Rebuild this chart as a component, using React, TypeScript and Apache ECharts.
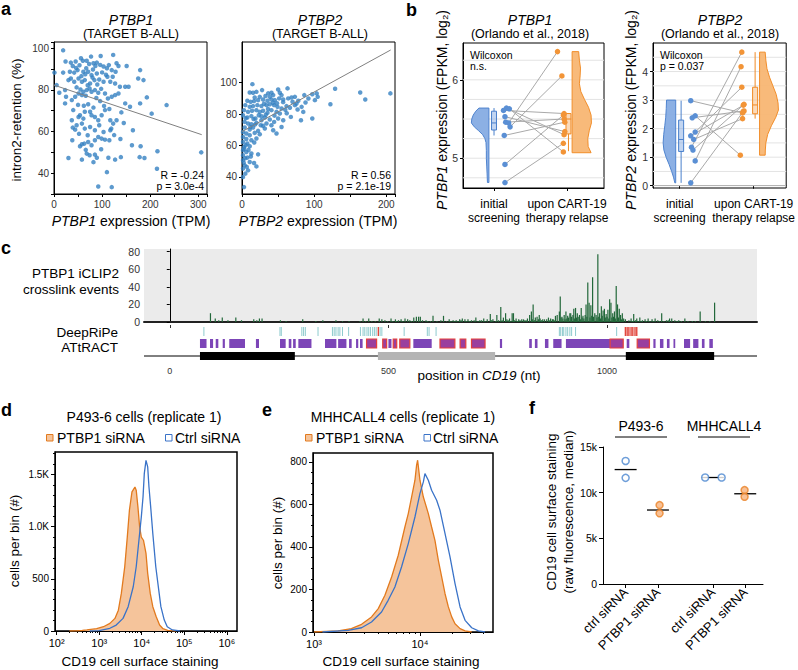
import React, { useEffect, useRef } from 'react';
import * as echarts from 'echarts';

const FONT = '"Liberation Sans", Arial, Helvetica, "DejaVu Sans", sans-serif';

// ---------------- Panel a ----------------
const aLeftPoints = [
  [19,99],[24,93.6],[1,88.3],[19,88.3],[35,93.1],[39,91.5],[45,93.6],[56,95.2],[60,94],[68,94],[77,96],[97,96.3],[123,96.8],
  [73,92.4],[82,92.8],[89,93.1],[96,92],[103,91.2],[110,90.4],[120,89.5],[130,92.8],[134,91.5],[151,91.5],[122,86.3],[128,88.7],
  [179,89.5],[186,84.7],[175,85.5],[33,88.7],[42,88.3],[49,89.5],[61,88.7],[67,90.4],[71,88.7],[78,87.1],[89,87.9],[30,84.7],
  [35,85.5],[42,83.9],[51,85.5],[58,83.9],[64,84.7],[75,83.1],[84,84.7],[94,85],[103,83.9],[111,86.3],[117,83.9],[127,83.1],
  [148,81.5],[155,81.5],[5.5,82.3],[11,78.6],[23,79.9],[25,76.7],[23,73.5],[37,75.1],[44,76.7],[51,78.3],[58,77.5],[61,79.1],
  [68,79.9],[74,80.7],[78,79.1],[85,79.9],[92,78.6],[106,78.3],[112,75.9],[120,76.7],[127,77.5],[134,78.3],[137,81.5],[148,73.5],
  [158,71.9],[179,73.5],[193,76.4],[234,72.7],[203,68.6],[40,70.3],[51,67],[54,67.8],[61,66.2],[64,69.5],[75,69.5],[78,67.8],
  [85,67],[92,65.4],[99,67.8],[106,70.3],[117,65.4],[123,63.8],[130,65.4],[37,65.4],[39,61.9],[44,60.9],[47,63],[58,63.8],
  [64,61.4],[75,62.2],[85,60.6],[94,63],[103,59.8],[117,60.6],[119,61.4],[164,60.6],[38,55.8],[54,52.9],[58,53.9],[63,54.2],
  [71,55],[78,53.4],[85,55.8],[92,57.4],[99,56.6],[106,56.1],[115,55.8],[162,53.4],[180,52.9],[215,50.5],[306,50],[30,47.3],
  [58,46.5],[68,49.4],[74,48.6],[85,48.9],[89,47.4],[82,45.3],[113,47.4],[127,46.5],[139,47.7],[178,47.7],[188,47.3],[110,40.5],
  [214,42.1],[92,33.6],[120,33.3],[46,90.5],[53,91.8],[57,86.6],[65,87.5],[81,89.8],[86,91.5],[100,88.4],[108,87.3],[114,91.9],
  [70,82.2],[80,85.9],[90,82.6],[98,80.5],[47,81.2],[55,80.2],[66,77.2],[88,76.1],[96,74.6],[104,72.3],[71,73.1],[62,72.4],
  [50,72.8],[82,71.5],[115,70.8],[140,69.2],[145,64.1],[125,58.3],[138,56.4],[70,58.2],[52,58.9],[98,51.5],[66,51.2]
];
const aRightPoints = [
  [14.4,99.1],[27.8,95.3],[10.7,93.8],[15.3,93.6],[20,94.2],[36.2,93.2],[40.8,93.6],[50.1,95.7],[63.1,96.4],[52.4,93.6],[54.8,92.1],
  [43.2,92.1],[38.5,91],[32.5,91.5],[24.6,91],[17.6,90.6],[7.4,88.5],[12,87.8],[16.7,88.3],[22.3,88.9],[29.2,89.3],[35.3,88.5],
  [40.8,89.3],[45.5,88.9],[51.5,90],[57.1,89.3],[64,90],[68.7,90.6],[73.3,91],[78,88.5],[86.3,92.1],[97.4,92.7],[103.5,93.2],
  [104.9,91],[101,88.9],[129,96.2],[163.8,93.8],[170.8,89.3],[205.6,93.2],[122.5,86.3],[4.6,85.7],[10.7,84.6],[15.3,85.1],
  [21.3,85.7],[26.9,85.1],[33.9,85.7],[38.5,86.3],[44.5,85.7],[49.2,84.6],[54.8,83.6],[61.7,85.1],[66.4,84],[73.3,85.7],[82.6,84.6],
  [77,82.9],[84.9,81.4],[2.8,82.5],[8.4,81.4],[13.9,82.1],[20,82.5],[24.6,81.4],[29.2,82.1],[35.3,80.8],[40.8,82.5],[47.8,81.4],
  [52.4,80.4],[67.7,78.2],[81.7,76.1],[97.4,77.2],[1.4,79.3],[7.4,77.8],[13,78.7],[18.6,77.2],[23.2,79.3],[26.9,76.1],[31.6,77.8],
  [38.5,76.5],[44.5,75],[50.1,77.2],[57.1,76.1],[3.7,75],[8.4,74],[13,73.5],[20,74.4],[26,72.9],[33.9,74],[40.8,72.9],[54.8,71.8],
  [43.2,69.7],[47.8,67.6],[3.7,71.4],[10.7,70.1],[15.3,71.4],[22.3,69.3],[31.6,70.8],[1.4,68.6],[6,67.6],[10.7,66.5],[17.6,68],
  [24.6,67.1],[1.4,65.4],[6,64.1],[13,63.3],[20,64.4],[1.4,62.2],[7.4,61.2],[2.8,59],[10.7,59.5],[1.4,56.9],[6,55.8],[13,54.8],
  [22.3,54.3],[1.4,53.7],[7.4,52.2],[1.4,50.6],[10.7,49.4],[3.7,47.3],[16.7,48.8],[20,46.6],[1.4,45.2],[8.4,44.1],[4.6,42],
  [1.4,39.8],[2.8,33.4],[30.5,86.6],[36,83.2],[43,87.2],[48.5,86.9],[57,87.6],[60,82.7],[70,87.9],[75.5,86.7],[88,87.4],[92,89.9],
  [27,78.6],[33,79.6],[45,79],[62,80.5],[5,77.4],[16,76.8],[11.5,71.8],[18,73.3],[29,72.6],[5,60.1],[3,57.8],[9,57.1],[4.2,51.8],
  [2.4,48.9],[6.6,46.3],[12.2,52.9],[17,61.9]
];
const aLeftFit = [[0, 82.3], [307, 58.5]];
const aRightFit = [[0, 68.8], [206, 120.9]];
const aLeftStats = ['R = -0.24', 'p = 3.0e-4'];
const aRightStats = ['R = 0.56', 'p = 2.1e-19'];

// ---------------- Panel b ----------------
const bCategories = ['initial\nscreening', 'upon CART-19\ntherapy relapse'];
const b1InitialValues = [5.64, 5.63, 5.61, 5.53, 5.46, 5.45, 5.40, 5.29, 4.92, 4.69];
const b1InitialJitter = [1.17, 1.21, 1.13, 1.15, 1.16, 1.20, 1.22, 1.14, 1.15, 1.15];
const b1RelapseValues = [5.30, 5.08, 5.57, 5.34, 5.50, 6.36, 6.05, 5.46, 5.55, 5.19];
const b1RelapseJitter = [1.96, 1.95, 1.96, 1.97, 1.96, 1.87, 1.93, 1.97, 1.95, 1.95];
const b1ViolinInitial = [[5.64,0.137],[5.6,0.18],[5.55,0.215],[5.5,0.235],[5.45,0.24],[5.4,0.2],[5.35,0.14],[5.3,0.085],[5.25,0.055],[5.2,0.04],[5.1,0.035],[5.0,0.035],[4.9,0.03],[4.8,0.025],[4.69,0.02]];
const b1ViolinRelapse = [[6.36,0.09],[6.25,0.1],[6.15,0.115],[6.05,0.11],[5.95,0.1],[5.85,0.12],[5.75,0.17],[5.65,0.225],[5.55,0.26],[5.45,0.265],[5.35,0.235],[5.25,0.215],[5.15,0.22],[5.07,0.26]];
const b1BoxInitial = [5.29, 5.36, 5.45, 5.60, 5.64];
const b1BoxRelapse = [5.09, 5.31, 5.50, 5.57, 5.57];
const b1GridValues = [4.75, 5.0, 5.25, 5.5, 5.75, 6.0, 6.25];

const b2InitialValues = [2.98, 2.45, 2.38, 1.88, 1.75, 1.62, 1.35, 1.25, 0.87, 0.10];
const b2InitialJitter = [1.15, 1.21, 1.17, 1.21, 1.15, 1.19, 1.16, 1.18, 1.21, 1.15];
const b2RelapseValues = [2.55, 1.07, 2.62, 3.45, 2.82, 2.35, 4.68, 2.85, 4.17, 2.60];
const b2RelapseJitter = [1.85, 1.82, 1.87, 1.84, 1.86, 1.85, 1.84, 1.87, 1.83, 1.86];
const b2ViolinInitial = [[3.0,0.124],[2.7,0.128],[2.4,0.135],[2.1,0.148],[1.8,0.162],[1.5,0.17],[1.25,0.16],[1.0,0.13],[0.75,0.09],[0.5,0.055],[0.3,0.03],[0.1,0.012]];
const b2ViolinRelapse = [[4.68,0.076],[4.4,0.085],[4.1,0.1],[3.8,0.135],[3.5,0.18],[3.2,0.225],[2.9,0.25],[2.65,0.255],[2.4,0.22],[2.1,0.16],[1.8,0.11],[1.5,0.085],[1.25,0.078],[1.07,0.076]];
const b2BoxInitial = [0.10, 1.20, 1.62, 2.30, 2.98];
const b2BoxRelapse = [2.35, 2.52, 2.83, 3.45, 4.68];
const b2GridValues = [0, 0.5, 1, 1.5, 2, 2.5, 3, 3.5, 4, 4.5];

// ---------------- Panel c ----------------
const clipEvents = [
  [93,10],[104,4],[112,2],[120,5],[133,2],[151,5],[164,2],[192,3],[199,2],[205,4],[211,4],[253,2],[266,1],[304,3],[334,1],[350,2],
  [380,2],[395,1],[410,1],[435,1],[442,4],[448,1],[455,4],[462,1],[470,1],[479,4],[485,3],[492,2],[498,1],[506,4],[510,1],[516,3],
  [519,1],[523,2],[529,3],[533,1],[538,4],[544,3],[549,2],[553,1],[558,5],[564,6],[569,6],[573,6],[578,2],[586,2],[590,1],[596,1],
  [602,7],[611,1],[620,2],[626,7],[633,1],[639,3],[643,1],[648,2],[652,1],[655,2],[659,1],[663,3],[666,2],[669,4],[675,3],[678,1],
  [682,3],[686,1],[690,2],[696,2],[700,5],[705,1],[709,2],[713,2],[718,4],[721,1],[726,3],[733,9],[736,2],[739,3],[745,1],[748,8],
  [752,2],[757,17],[760,2],[763,5],[768,10],[771,3],[774,2],[777,4],[780,1],[783,10],[786,10],[788,2],[792,4],[795,1],[798,3],
  [801,2],[805,3],[809,3],[812,2],[815,2],[818,4],[823,8],[827,12],[829,3],[831,20],[834,2],[836,5],[840,6],[843,3],[845,8],
  [847,4],[850,2],[853,3],[857,3],[862,3],[866,5],[869,2],[871,4],[875,3],[877,3],[879,2],[882,7],[886,8],[891,12],[893,29],
  [895,5],[897,6],[899,4],[902,8],[904,3],[906,12],[908,4],[910,7],[912,5],[915,10],[917,10],[919,6],[922,8],[924,15],[926,4],
  [928,16],[930,5],[932,10],[934,6],[937,8],[939,3],[941,16],[943,5],[945,7],[947,4],[950,8],[952,20],[954,6],[956,45],[959,22],
  [961,5],[963,19],[965,7],[967,51],[969,6],[972,10],[975,8],[977,5],[979,77],[981,6],[983,10],[985,4],[987,18],[989,7],[991,13],
  [994,15],[996,5],[998,9],[1000,6],[1002,14],[1004,4],[1006,26],[1009,22],[1011,5],[1013,10],[1015,6],[1017,12],[1019,4],
  [1021,41],[1024,20],[1026,5],[1028,15],[1031,8],[1033,3],[1035,10],[1038,4],[1042,3],[1050,2],[1055,4],[1058,1],[1061,9],
  [1065,2],[1068,4],[1071,1],[1075,5],[1078,1],[1081,2],[1087,3],[1090,1],[1094,4],[1098,1],[1103,3],[1107,1],[1110,4],[1116,2],
  [1120,1],[1125,10],[1130,1],[1136,2],[1140,2],[1143,4],[1148,4],[1155,2],[1160,1],[1164,2],[1170,1],[1178,4],[1185,1],
  [1195,1],[1202,1],[1213,12],[1225,1],[1235,1],[1246,22]
];
const deepripeSites = [78,252,255,302,306,310,339,372,376,380,385,389,395,409,436,442,446,451,455,459,464,468,472,481,485,536,589,593,609,891,894,898,901,906,910,915,919,928,1022];
const deepripeStrongSites = [477,1042,1046,1050,1055,1059,1064,1068];
const attractMotifs = [
  [69,84],[92,99],[105,111],[121,126],[136,172],[197,204],[252,265],[272,278],[282,288],[294,324],[355,381],[385,404],[410,416],
  [426,431],[435,441],[500,507],[557,599],[755,760],[822,828],[835,841],[858,866],[877,896],[906,1007],[1045,1051],[1106,1111],
  [1121,1129],[1137,1143],[1152,1156],[1176,1190],[1197,1209],[1217,1223],[1234,1242]
];
const attractOverlapMotifs = [[450,473],[487,496],[511,519],[526,549],[618,652],[664,677],[690,721],[1007,1037],[1069,1097]];
const geneLine = [-59, 1343];
const geneBlocks = [[69, 286, 0], [476, 744, 1], [1043, 1245, 0]];
const positionTicks = [0, 500, 1000];

// ---------------- Panel d ----------------
const dPtbp1 = [[200,0],[300,2],[400,5],[510,10],[870,22],[1260,41],[1780,73],[2340,121],[2820,200],[3310,360],[3980,615],[4570,900],
  [5130,1158],[5890,1333],[6920,1380],[7410,1350],[8130,1190],[8910,1000],[9770,900],[10960,870],[12590,743],[13800,552],
  [15850,360],[18200,233],[21880,137],[26300,57],[31600,22],[40700,6],[63100,0]];
const dCtrl = [[600,0],[1000,3],[1780,26],[2510,57],[3630,121],[4790,233],[6310,424],[7410,616],[8910,935],[9770,1094],
  [10720,1286],[11480,1509],[12590,1636],[13800,1573],[14790,1381],[16220,1190],[18200,935],[21380,616],[25120,392],
  [28180,233],[33880,105],[39810,41],[52480,10],[79430,0]];
const dCountTicks = [0, 500, 1000, 1500];

// ---------------- Panel e ----------------
const ePtbp1 = [[1000,0],[1690,5],[2250,16],[2810,36],[3490,71],[4040,110],[4670,173],[5400,259],[6240,361],[7210,494],[7760,557],
  [8340,635],[8970,714],[9300,785],[9510,808],[10000,714],[10770,635],[12000,557],[12890,494],[13860,431],[14920,337],
  [16040,259],[17260,180],[18550,118],[19950,71],[21450,39],[23930,16],[26690,5],[30830,0]];
const eCtrl = [[1200,0],[2100,8],[2810,20],[3490,47],[4340,94],[5010,149],[5800,212],[6700,306],[7760,416],[8970,541],[10000,651],
  [10770,706],[11150,745],[12000,714],[12890,667],[14380,620],[15460,573],[17260,463],[19230,353],[21450,228],[23930,118],
  [26690,55],[30830,20],[35650,5],[41200,0]];
const eCountTicks = [0, 200, 400, 600, 800];

// ---------------- Panel f ----------------
const fLabels = ['ctrl siRNA', 'PTBP1 siRNA', 'ctrl siRNA', 'PTBP1 siRNA'];
const fPositions = [1, 2, 3.7, 4.7];
const fValues = [[13470, 11620], [8640, 7740], [11660, 11660], [10280, 9550]];
const fJitter = [[0, 0], [0.05, 0.05], [-0.24, 0.27], [-0.02, -0.02]];
const fMedians = [12530, 8100, 11660, 9880];
const fCellLines = ['P493-6', 'MHHCALL4'];

// ---------------- helpers ----------------
const BLUE = '#5a8fd4';
const BLUE_FILL = '#86ace3';
const ORANGE = '#f29437';
const ORANGE_FILL = '#f8b673';
const supers: Record<number, string> = { 2: '²', 3: '³', 4: '⁴', 5: '⁵', 6: '⁶' };

function txt(x: number, y: number, text: string, size: number, opts: any = {}) {
  const color = opts.color || '#000';
  return {
    type: 'text', x, y, rotation: opts.rot || 0, silent: true, z: 100,
    style: {
      text, fill: color, fontSize: size, fontFamily: FONT,
      fontWeight: opts.bold ? 'bold' : 'normal', fontStyle: opts.italic ? 'italic' : 'normal',
      align: opts.align || 'center', verticalAlign: 'middle',
      rich: { i: { fontStyle: 'italic', fontSize: size, fontFamily: FONT, fill: color } }
    }
  };
}

function gridLinesSeries(xi: number, yi: number, values: number[], xmin: number, xmax: number) {
  return {
    type: 'custom', xAxisIndex: xi, yAxisIndex: yi, silent: true, z: 1,
    data: values.map((v) => [xmin, v]),
    renderItem: (_p: any, api: any) => {
      const v = api.value(1);
      const a = api.coord([xmin, v]);
      const b = api.coord([xmax, v]);
      return { type: 'line', shape: { x1: a[0], y1: a[1], x2: b[0], y2: b[1] }, style: { stroke: '#e3e3e3', lineWidth: 1 } };
    }
  };
}

function violinSeries(xi: number, yi: number, base: number, dir: number, profile: number[][], fill: string, stroke: string) {
  return {
    type: 'custom', xAxisIndex: xi, yAxisIndex: yi, silent: true, z: 2,
    data: [[base, profile[0][0]]],
    renderItem: (_p: any, api: any) => {
      const pts: number[][] = [];
      pts.push(api.coord([base, profile[0][0]]));
      profile.forEach(([v, w]) => pts.push(api.coord([base + dir * w, v])));
      pts.push(api.coord([base, profile[profile.length - 1][0]]));
      return { type: 'polygon', shape: { points: pts }, style: { fill, stroke, lineWidth: 1, opacity: 0.95 } };
    }
  };
}

function boxSeries(xi: number, yi: number, x: number, stats: number[], hw: number, stroke: string, fill: string) {
  return {
    type: 'custom', xAxisIndex: xi, yAxisIndex: yi, silent: true, z: 3,
    data: [[x, ...stats]],
    renderItem: (_p: any, api: any) => {
      const cx = api.value(0);
      const lo = api.value(1), q1 = api.value(2), md = api.value(3), q3 = api.value(4), hi = api.value(5);
      const tl = api.coord([cx - hw, q3]);
      const br = api.coord([cx + hw, q1]);
      const lw = api.coord([cx, lo]);
      const lq = api.coord([cx, q1]);
      const uq = api.coord([cx, q3]);
      const uw = api.coord([cx, hi]);
      const ml = api.coord([cx - hw, md]);
      const mr = api.coord([cx + hw, md]);
      return {
        type: 'group',
        children: [
          { type: 'line', shape: { x1: lw[0], y1: lw[1], x2: lq[0], y2: lq[1] }, style: { stroke, lineWidth: 1 } },
          { type: 'line', shape: { x1: uq[0], y1: uq[1], x2: uw[0], y2: uw[1] }, style: { stroke, lineWidth: 1 } },
          { type: 'rect', shape: { x: tl[0], y: tl[1], width: br[0] - tl[0], height: br[1] - tl[1] }, style: { fill, stroke, lineWidth: 1 } },
          { type: 'line', shape: { x1: ml[0], y1: ml[1], x2: mr[0], y2: mr[1] }, style: { stroke, lineWidth: 1 } }
        ]
      };
    }
  };
}

function pairLines(xi: number, yi: number, iv: number[], ij: number[], rv: number[], rj: number[]) {
  return {
    type: 'lines', coordinateSystem: 'cartesian2d', xAxisIndex: xi, yAxisIndex: yi, silent: true, z: 4,
    lineStyle: { color: '#a9a9a9', width: 1, opacity: 1 },
    data: iv.map((v, i) => ({ coords: [[ij[i], v], [rj[i], rv[i]]] }))
  };
}

function dots(xi: number, yi: number, xs: number[], ys: number[], color: string) {
  return {
    type: 'scatter', xAxisIndex: xi, yAxisIndex: yi, silent: true, z: 5, symbolSize: 5.5,
    itemStyle: { color, opacity: 1 },
    data: ys.map((v, i) => [xs[i], v])
  };
}

const blackLine = { show: true, lineStyle: { color: '#000', width: 1 } };
const tick = (len = 3) => ({ show: true, length: len, lineStyle: { color: '#000', width: 1 } });
const lbl = (extra: any = {}) => ({ fontSize: 10, color: '#333', fontFamily: FONT, ...extra });

function buildOption() {
  const log = (arr: number[][]) => arr.map(([v, c]) => [Math.log10(v), c]);
  const minorLogs = (lo: number, hi: number, min: number, max: number) => {
    const out: number[] = [];
    for (let n = lo; n <= hi; n++) for (let k = 2; k <= 9; k++) {
      const l = Math.log10(k * Math.pow(10, n));
      if (l > min && l < max) out.push(l);
    }
    return out;
  };
  const D_MIN = 1.96, D_MAX = 6.24, E_MIN = 2.99, E_MAX = 4.69;
  const B1X = [0.575, 2.507], B2X = [0.64, 2.44];
  const C_X = [geneLine[0], geneLine[1]];

  const grid = [
    { left: 54, top: 42, width: 153, height: 152, show: true, borderColor: '#000', borderWidth: 1 },
    { left: 242, top: 42, width: 153, height: 152, show: true, borderColor: '#000', borderWidth: 1 },
    { left: 463, top: 43, width: 141, height: 145, show: true, borderColor: '#000', borderWidth: 1 },
    { left: 653, top: 43, width: 135, height: 145, show: true, borderColor: '#000', borderWidth: 1 },
    { left: 144, top: 249, width: 613, height: 73, show: true, backgroundColor: '#ebebeb', borderWidth: 0 },
    { left: 144, top: 325, width: 613, height: 38, show: false },
    { left: 55, top: 452, width: 182, height: 179, show: true, borderColor: '#000', borderWidth: 1.5 },
    { left: 313, top: 453, width: 180, height: 179, show: true, borderColor: '#000', borderWidth: 1.5 },
    { left: 603, top: 447, width: 160, height: 137, show: false }
  ];

  const xAxis: any[] = [
    { gridIndex: 0, type: 'value', min: 0, max: 318, interval: 50, axisLine: blackLine, axisTick: tick(), splitLine: { show: false },
      axisLabel: lbl({ fontSize: 10, margin: 5, formatter: (v: number) => (v % 100 === 0 ? String(v) : '') }) },
    { gridIndex: 1, type: 'value', min: 0, max: 212, interval: 50, axisLine: blackLine, axisTick: tick(), splitLine: { show: false },
      axisLabel: lbl({ fontSize: 10, margin: 5, formatter: (v: number) => (v % 100 === 0 ? String(v) : '') }) },
    { gridIndex: 2, type: 'value', min: B1X[0], max: B1X[1], axisLine: blackLine, splitLine: { show: false },
      axisTick: { ...tick(), customValues: [1, 2] },
      axisLabel: lbl({ fontSize: 12, color: '#000', lineHeight: 14, margin: 9, customValues: [1, 2], formatter: (v: number) => bCategories[Math.round(v) - 1] }) },
    { gridIndex: 3, type: 'value', min: B2X[0], max: B2X[1], axisLine: blackLine, splitLine: { show: false },
      axisTick: { ...tick(), customValues: [1, 2] },
      axisLabel: lbl({ fontSize: 12, color: '#000', lineHeight: 14, margin: 9, customValues: [1, 2], formatter: (v: number) => bCategories[Math.round(v) - 1] }) },
    { gridIndex: 4, type: 'value', min: C_X[0], max: C_X[1], axisLine: { show: true, lineStyle: { color: '#222', width: 2 } },
      axisTick: { show: false }, axisLabel: { show: false }, splitLine: { show: false } },
    { gridIndex: 5, type: 'value', min: C_X[0], max: C_X[1], axisLine: { show: false }, splitLine: { show: false },
      axisTick: { show: true, length: 3, customValues: positionTicks, lineStyle: { color: '#333' } },
      axisLabel: lbl({ fontSize: 9, margin: 3, customValues: positionTicks, formatter: (v: number) => String(v) }) },
    { gridIndex: 6, type: 'value', min: D_MIN, max: D_MAX, axisLine: blackLine, splitLine: { show: false },
      axisTick: { ...tick(4), customValues: [2, 3, 4, 5, 6] },
      axisLabel: lbl({ fontSize: 11, color: '#000', margin: 6, customValues: [2, 3, 4, 5, 6], formatter: (v: number) => '10' + supers[Math.round(v)] }) },
    { gridIndex: 6, type: 'value', min: D_MIN, max: D_MAX, position: 'bottom', axisLine: { show: false }, splitLine: { show: false },
      axisTick: { ...tick(2), customValues: minorLogs(2, 5, D_MIN, D_MAX) }, axisLabel: { show: false } },
    { gridIndex: 7, type: 'value', min: E_MIN, max: E_MAX, axisLine: blackLine, splitLine: { show: false },
      axisTick: { ...tick(4), customValues: [3, 4] },
      axisLabel: lbl({ fontSize: 11, color: '#000', margin: 6, customValues: [3, 4], formatter: (v: number) => '10' + supers[Math.round(v)] }) },
    { gridIndex: 7, type: 'value', min: E_MIN, max: E_MAX, position: 'bottom', axisLine: { show: false }, splitLine: { show: false },
      axisTick: { ...tick(2), customValues: minorLogs(3, 4, E_MIN, E_MAX) }, axisLabel: { show: false } },
    { gridIndex: 8, type: 'value', min: 0.3, max: 5.25, axisLine: blackLine, splitLine: { show: false },
      axisTick: { ...tick(4), customValues: fPositions },
      axisLabel: lbl({ fontSize: 13, color: '#000', rotate: 45, margin: 6, customValues: fPositions,
        formatter: (v: number) => fLabels[fPositions.findIndex((p) => Math.abs(p - v) < 1e-6)] || '' }) }
  ];

  const yAxis: any[] = [
    { gridIndex: 0, type: 'value', min: 30, max: 103, interval: 10, axisLine: blackLine, axisTick: tick(), splitLine: { show: false },
      axisLabel: lbl({ fontSize: 10, margin: 5, formatter: (v: number) => (v % 20 === 0 && v >= 40 ? String(v) : '') }) },
    { gridIndex: 1, type: 'value', min: 29, max: 126, axisLine: blackLine, splitLine: { show: false },
      axisTick: { ...tick(), customValues: [40, 60, 80, 100] },
      axisLabel: lbl({ fontSize: 10, margin: 5, customValues: [40, 60, 80, 100] }) },
    { gridIndex: 2, type: 'value', min: 4.62, max: 6.47, axisLine: blackLine, splitLine: { show: false },
      axisTick: { ...tick(), customValues: [5, 6] }, axisLabel: lbl({ fontSize: 10.5, margin: 5, customValues: [5, 6] }) },
    { gridIndex: 3, type: 'value', min: -0.08, max: 5.0, axisLine: blackLine, splitLine: { show: false },
      axisTick: { ...tick(), customValues: [0, 1, 2, 3, 4] }, axisLabel: lbl({ fontSize: 10.5, margin: 5, customValues: [0, 1, 2, 3, 4] }) },
    { gridIndex: 4, type: 'value', min: 0, max: 83, axisLine: blackLine, splitLine: { show: false },
      axisTick: { ...tick(), customValues: [0, 20, 40, 60, 80] },
      axisLabel: lbl({ fontSize: 10.5, margin: 4, customValues: [0, 20, 40, 60, 80] }) },
    { gridIndex: 5, type: 'value', min: 0, max: 38, inverse: true, show: false },
    { gridIndex: 6, type: 'value', min: 0, max: 1716, interval: 500, axisLine: blackLine, splitLine: { show: false },
      axisTick: { ...tick(4), customValues: dCountTicks },
      minorTick: { show: true, splitNumber: 5, length: 2, lineStyle: { color: '#000' } },
      axisLabel: lbl({ fontSize: 10, color: '#000', margin: 6, customValues: dCountTicks,
        formatter: (v: number) => (v >= 1000 ? (v / 1000).toFixed(1) + 'K' : String(v)) }) },
    { gridIndex: 7, type: 'value', min: 0, max: 842, interval: 200, axisLine: blackLine, splitLine: { show: false },
      axisTick: { ...tick(4), customValues: eCountTicks },
      minorTick: { show: true, splitNumber: 4, length: 2, lineStyle: { color: '#000' } },
      axisLabel: lbl({ fontSize: 10, color: '#000', margin: 6, customValues: eCountTicks }) },
    { gridIndex: 8, type: 'value', min: 0, max: 15000, interval: 5000, axisLine: blackLine, axisTick: tick(4), splitLine: { show: false },
      axisLabel: lbl({ fontSize: 10.5, color: '#000', margin: 6, formatter: (v: number) => (v === 0 ? '0' : v / 1000 + 'k') }) }
  ];

  const series: any[] = [
    // Panel a
    { type: 'scatter', xAxisIndex: 0, yAxisIndex: 0, symbolSize: 4.5, itemStyle: { color: '#3481c2' }, data: aLeftPoints, silent: true },
    { type: 'line', xAxisIndex: 0, yAxisIndex: 0, data: aLeftFit, symbol: 'none', lineStyle: { color: '#808080', width: 1 }, silent: true, z: 3 },
    { type: 'scatter', xAxisIndex: 1, yAxisIndex: 1, symbolSize: 4.5, itemStyle: { color: '#3481c2' }, data: aRightPoints, silent: true },
    { type: 'line', xAxisIndex: 1, yAxisIndex: 1, data: aRightFit, symbol: 'none', lineStyle: { color: '#808080', width: 1 }, silent: true, z: 3 },

    // Panel b (PTBP1)
    gridLinesSeries(2, 2, b1GridValues, B1X[0], B1X[1]),
    violinSeries(2, 2, 0.93, -1, b1ViolinInitial, BLUE_FILL, '#4a80cc'),
    violinSeries(2, 2, 2.07, 1, b1ViolinRelapse, ORANGE_FILL, '#f08a24'),
    boxSeries(2, 2, 1.0, b1BoxInitial, 0.034, '#4a80cc', 'rgba(134,172,227,0.5)'),
    boxSeries(2, 2, 2.02, b1BoxRelapse, 0.034, '#f08a24', 'rgba(248,182,115,0.5)'),
    pairLines(2, 2, b1InitialValues, b1InitialJitter, b1RelapseValues, b1RelapseJitter),
    dots(2, 2, b1InitialJitter, b1InitialValues, BLUE),
    dots(2, 2, b1RelapseJitter, b1RelapseValues, ORANGE),

    // Panel b (PTBP2)
    gridLinesSeries(3, 3, b2GridValues, B2X[0], B2X[1]),
    violinSeries(3, 3, 0.947, -1, b2ViolinInitial, BLUE_FILL, '#4a80cc'),
    violinSeries(3, 3, 2.08, 1, b2ViolinRelapse, ORANGE_FILL, '#f08a24'),
    boxSeries(3, 3, 1.02, b2BoxInitial, 0.034, '#4a80cc', 'rgba(134,172,227,0.5)'),
    boxSeries(3, 3, 2.02, b2BoxRelapse, 0.034, '#f08a24', 'rgba(248,182,115,0.5)'),
    pairLines(3, 3, b2InitialValues, b2InitialJitter, b2RelapseValues, b2RelapseJitter),
    dots(3, 3, b2InitialJitter, b2InitialValues, BLUE),
    dots(3, 3, b2RelapseJitter, b2RelapseValues, ORANGE),

    // Panel c: iCLIP histogram
    {
      type: 'custom', xAxisIndex: 4, yAxisIndex: 4, silent: true, data: clipEvents,
      renderItem: (_p: any, api: any) => {
        const a = api.coord([api.value(0), 0]);
        const b = api.coord([api.value(0), api.value(1)]);
        return { type: 'rect', shape: { x: a[0] - 0.6, y: b[1], width: 1.2, height: a[1] - b[1] }, style: { fill: '#22683a' } };
      }
    },
    // DeepRiPe
    {
      type: 'custom', xAxisIndex: 5, yAxisIndex: 5, silent: true,
      data: deepripeSites.map((p) => [p, 0]).concat(deepripeStrongSites.map((p) => [p, 1])),
      renderItem: (_p: any, api: any) => {
        const a = api.coord([api.value(0), 2]);
        const b = api.coord([api.value(0), 11]);
        const strong = api.value(1) === 1;
        return { type: 'line', shape: { x1: a[0], y1: a[1], x2: b[0], y2: b[1] }, style: { stroke: strong ? '#e2463c' : '#8ecbce', lineWidth: strong ? 1.4 : 1 } };
      }
    },
    // ATtRACT
    {
      type: 'custom', xAxisIndex: 5, yAxisIndex: 5, silent: true,
      data: attractMotifs.map(([s, e]) => [s, e, 0]).concat(attractOverlapMotifs.map(([s, e]) => [s, e, 1])),
      renderItem: (_p: any, api: any) => {
        const a = api.coord([api.value(0), 14]);
        const b = api.coord([api.value(1), 23]);
        const red = api.value(2) === 1;
        return {
          type: 'rect', shape: { x: a[0], y: a[1], width: Math.max(1.2, b[0] - a[0]), height: b[1] - a[1] },
          style: { fill: red ? '#9a3f9e' : '#7c45b7', stroke: red ? '#e5403a' : null, lineWidth: red ? 1.2 : 0 }
        };
      }
    },
    // gene model line
    {
      type: 'custom', xAxisIndex: 5, yAxisIndex: 5, silent: true, data: [[geneLine[0], geneLine[1]]],
      renderItem: (_p: any, api: any) => {
        const a = api.coord([api.value(0), 31]);
        const b = api.coord([api.value(1), 31]);
        return { type: 'line', shape: { x1: a[0], y1: a[1], x2: b[0], y2: b[1] }, style: { stroke: '#000', lineWidth: 1 } };
      }
    },
    // gene model blocks
    {
      type: 'custom', xAxisIndex: 5, yAxisIndex: 5, silent: true, z: 3, data: geneBlocks,
      renderItem: (_p: any, api: any) => {
        const a = api.coord([api.value(0), 27]);
        const b = api.coord([api.value(1), 35]);
        return { type: 'rect', shape: { x: a[0], y: a[1], width: b[0] - a[0], height: b[1] - a[1] }, style: { fill: api.value(2) === 1 ? '#b4b4b4' : '#000' } };
      }
    },

    // Panel d
    { type: 'line', xAxisIndex: 6, yAxisIndex: 6, data: log(dPtbp1), symbol: 'none', silent: true, z: 2,
      lineStyle: { color: '#e27a1e', width: 1.3 }, areaStyle: { color: '#f5c49b', opacity: 1 } },
    { type: 'line', xAxisIndex: 6, yAxisIndex: 6, data: log(dCtrl), symbol: 'none', silent: true, z: 3,
      lineStyle: { color: '#3a73c8', width: 1.3 } },
    // Panel e
    { type: 'line', xAxisIndex: 8, yAxisIndex: 7, data: log(ePtbp1), symbol: 'none', silent: true, z: 2,
      lineStyle: { color: '#e27a1e', width: 1.3 }, areaStyle: { color: '#f5c49b', opacity: 1 } },
    { type: 'line', xAxisIndex: 8, yAxisIndex: 7, data: log(eCtrl), symbol: 'none', silent: true, z: 3,
      lineStyle: { color: '#3a73c8', width: 1.3 } },

    // Panel f medians
    {
      type: 'custom', xAxisIndex: 10, yAxisIndex: 8, silent: true, z: 2,
      data: fMedians.map((m, i) => [fPositions[i], m]),
      renderItem: (_p: any, api: any) => {
        const a = api.coord([api.value(0) - 0.34, api.value(1)]);
        const b = api.coord([api.value(0) + 0.34, api.value(1)]);
        return { type: 'line', shape: { x1: a[0], y1: a[1], x2: b[0], y2: b[1] }, style: { stroke: '#000', lineWidth: 1.3 } };
      }
    },
    { type: 'scatter', xAxisIndex: 10, yAxisIndex: 8, silent: true, z: 4, symbolSize: 7,
      itemStyle: { color: '#fff', borderColor: '#4a86d0', borderWidth: 1.5 },
      data: [0, 2].flatMap((g) => fValues[g].map((v, k) => [fPositions[g] + fJitter[g][k], v])) },
    { type: 'scatter', xAxisIndex: 10, yAxisIndex: 8, silent: true, z: 4, symbolSize: 7,
      itemStyle: { color: '#f6b27c', borderColor: '#ea8227', borderWidth: 1.5 },
      data: [1, 3].flatMap((g) => fValues[g].map((v, k) => [fPositions[g] + fJitter[g][k], v])) }
  ];

  const graphic: any[] = [
    // panel letters
    txt(1, 9, 'a', 18, { bold: true, align: 'left' }),
    txt(406, 10, 'b', 18, { bold: true, align: 'left' }),
    txt(1, 248, 'c', 18, { bold: true, align: 'left' }),
    txt(1, 410, 'd', 18, { bold: true, align: 'left' }),
    txt(262, 410, 'e', 18, { bold: true, align: 'left' }),
    txt(529, 408, 'f', 18, { bold: true, align: 'left' }),

    // panel a
    txt(131, 20, 'PTBP1', 14, { italic: true }),
    txt(131, 33.5, '(TARGET B-ALL)', 12.5),
    txt(320, 20, 'PTBP2', 14, { italic: true }),
    txt(320, 33.5, '(TARGET B-ALL)', 12.5),
    txt(16, 120, 'intron2-retention (%)', 13.5, { rot: Math.PI / 2 }),
    txt(131, 221, '{i|PTBP1} expression (TPM)', 14),
    txt(318, 221, '{i|PTBP2} expression (TPM)', 14),
    txt(204, 175, aLeftStats[0], 10.5, { align: 'right' }),
    txt(204, 185.5, aLeftStats[1], 10.5, { align: 'right' }),
    txt(391, 175, aRightStats[0], 10.5, { align: 'right' }),
    txt(391, 185.5, aRightStats[1], 10.5, { align: 'right' }),

    // panel b
    txt(530, 20, 'PTBP1', 14, { italic: true }),
    txt(530, 33.5, '(Orlando et al., 2018)', 12.5),
    txt(720, 20, 'PTBP2', 14, { italic: true }),
    txt(720, 33.5, '(Orlando et al., 2018)', 12.5),
    txt(442, 110, '{i|PTBP1} expression (FPKM, log₂)', 14, { rot: Math.PI / 2 }),
    txt(631, 110, '{i|PTBP2} expression (FPKM, log₂)', 14, { rot: Math.PI / 2 }),
    txt(470, 55, 'Wilcoxon', 10.5, { align: 'left' }),
    txt(470, 65.5, 'n.s.', 10.5, { align: 'left' }),
    txt(660, 55, 'Wilcoxon', 10.5, { align: 'left' }),
    txt(660, 65.5, 'p = 0.037', 10.5, { align: 'left' }),

    // panel c
    txt(119, 273, 'PTBP1 iCLIP2', 13.5, { align: 'right' }),
    txt(119, 289, 'crosslink events', 13.5, { align: 'right' }),
    txt(118, 332, 'DeepRiPe', 13.5, { align: 'right' }),
    txt(118, 347, 'ATtRACT', 13.5, { align: 'right' }),
    txt(479, 375, 'position in {i|CD19} (nt)', 13.5),

    // panel d
    txt(144, 417, 'P493-6 cells (replicate 1)', 14),
    { type: 'rect', shape: { x: 46.5, y: 434.5, width: 6.5, height: 6.5 }, style: { fill: '#f5c49b', stroke: '#e27a1e', lineWidth: 1 }, silent: true },
    txt(57, 438, 'PTBP1 siRNA', 14, { align: 'left' }),
    { type: 'rect', shape: { x: 165.5, y: 434.5, width: 6.5, height: 6.5 }, style: { fill: '#fff', stroke: '#3a73c8', lineWidth: 1 }, silent: true },
    txt(175, 438, 'Ctrl siRNA', 14, { align: 'left' }),
    txt(140, 661, 'CD19 cell surface staining', 13.5),
    txt(14, 541, 'cells per bin (#)', 13.5, { rot: Math.PI / 2 }),

    // panel e
    txt(403, 417, 'MHHCALL4 cells (replicate 1)', 14),
    { type: 'rect', shape: { x: 305.5, y: 434.5, width: 6.5, height: 6.5 }, style: { fill: '#f5c49b', stroke: '#e27a1e', lineWidth: 1 }, silent: true },
    txt(316, 438, 'PTBP1 siRNA', 14, { align: 'left' }),
    { type: 'rect', shape: { x: 424, y: 434.5, width: 6.5, height: 6.5 }, style: { fill: '#fff', stroke: '#3a73c8', lineWidth: 1 }, silent: true },
    txt(433, 438, 'Ctrl siRNA', 14, { align: 'left' }),
    txt(401, 661, 'CD19 cell surface staining', 13.5),
    txt(277, 543, 'cells per bin (#)', 13.5, { rot: Math.PI / 2 }),

    // panel f
    txt(641, 426, fCellLines[0], 14),
    txt(724, 426, fCellLines[1], 14),
    { type: 'line', shape: { x1: 615, y1: 437, x2: 667, y2: 437 }, style: { stroke: '#000', lineWidth: 1 }, silent: true },
    { type: 'line', shape: { x1: 698, y1: 437, x2: 750, y2: 437 }, style: { stroke: '#000', lineWidth: 1 }, silent: true },
    txt(551, 512, 'CD19 cell surface staining', 13.5, { rot: Math.PI / 2 }),
    txt(568, 512, '(raw fluorescence, median)', 13.5, { rot: Math.PI / 2 })
  ];

  return { animation: false, backgroundColor: '#fff', textStyle: { fontFamily: FONT }, grid, xAxis, yAxis, series, graphic };
}

export default function App() {
  const ref = useRef<HTMLDivElement>(null);
  useEffect(() => {
    if (!ref.current) return;
    const chart = echarts.init(ref.current, null, { renderer: 'svg' });
    chart.setOption(buildOption() as any);
    return () => chart.dispose();
  }, []);
  return <div ref={ref} style={{ position: 'fixed', left: 0, top: 0, width: 798, height: 670, background: '#fff' }} />;
}
